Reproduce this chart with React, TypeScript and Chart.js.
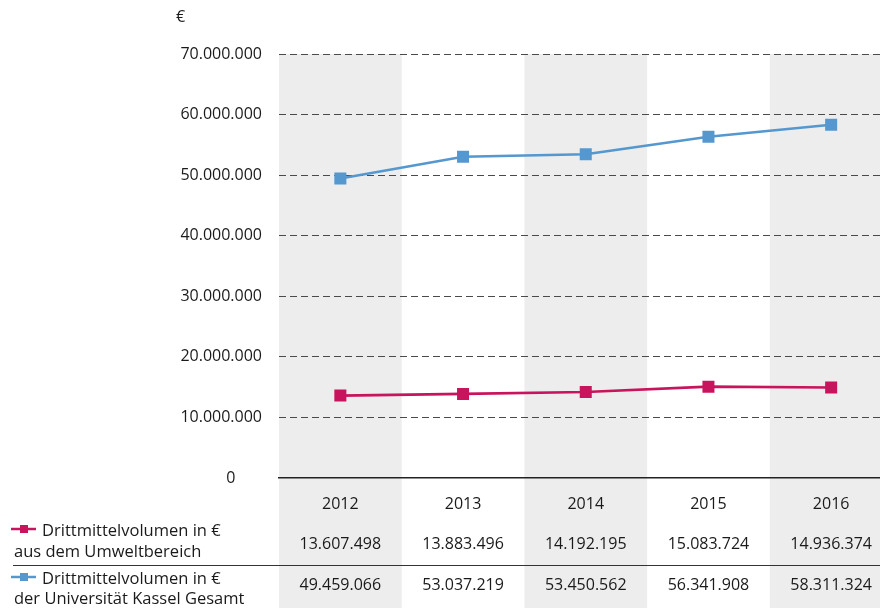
import React, { useEffect, useRef } from "react";
import { Chart, registerables } from "chart.js";

Chart.register(...registerables);

const years = ["2012", "2013", "2014", "2015", "2016"];
const umwelt = [13607498, 13883496, 14192195, 15083724, 14936374];
const gesamt = [49459066, 53037219, 53450562, 56341908, 58311324];
const yTicks = [0, 10000000, 20000000, 30000000, 40000000, 50000000, 60000000, 70000000];
const legendUmwelt = ["Drittmittelvolumen in €", "aus dem Umweltbereich"];
const legendGesamt = ["Drittmittelvolumen in €", "der Universität Kassel Gesamt"];
const unitLabel = "€";

const PINK = "#c8145c";
const BLUE = "#5597cf";
const SHADE = "#ededed";
const TEXT = "#1a1a1a";
const FONT = "'Open Sans', 'Noto Sans', sans-serif";
const FS = 16;

function fmt(n: number): string {
  return String(Math.round(n)).replace(/\B(?=(\d{3})+(?!\d))/g, ".");
}

const tablePlugin = {
  id: "tablePlugin",
  beforeDraw(chart: any) {
    const { ctx, chartArea, scales } = chart;
    const x = scales.x;
    const w = x.getPixelForValue(1) - x.getPixelForValue(0);
    ctx.save();
    ctx.fillStyle = SHADE;
    for (let i = 0; i < years.length; i += 2) {
      const cx = x.getPixelForValue(i);
      ctx.fillRect(cx - w / 2, chartArea.top, w, chart.height - chartArea.top);
    }
    ctx.restore();
  },
  afterDraw(chart: any) {
    const { ctx, scales } = chart;
    const x = scales.x;
    ctx.save();
    ctx.fillStyle = TEXT;
    ctx.font = `${FS}px ${FONT}`;
    ctx.textBaseline = "middle";
    ctx.textAlign = "center";
    years.forEach((yr, i) => {
      const cx = x.getPixelForValue(i);
      ctx.fillText(yr, cx, 504);
      ctx.fillText(fmt(umwelt[i]), cx, 544);
      ctx.fillText(fmt(gesamt[i]), cx, 585);
    });
    // unit label
    ctx.textAlign = "left";
    ctx.fillText(unitLabel, 176, 17);
    // legend rows
    const drawLegend = (color: string, lines: string[], y1: number, y2: number) => {
      ctx.strokeStyle = color;
      ctx.lineWidth = 2.5;
      ctx.beginPath();
      ctx.moveTo(11, y1 - 2);
      ctx.lineTo(36, y1 - 2);
      ctx.stroke();
      ctx.fillStyle = color;
      ctx.fillRect(20, y1 - 6, 8, 8);
      ctx.fillStyle = TEXT;
      ctx.textAlign = "left";
      ctx.font = `16.5px ${FONT}`;
      ctx.fillText(lines[0], 42, y1);
      ctx.fillText(lines[1], 14, y2);
    };
    drawLegend(PINK, legendUmwelt, 531, 552);
    drawLegend(BLUE, legendGesamt, 579, 599);
    // separator
    ctx.strokeStyle = "#333";
    ctx.lineWidth = 1.2;
    ctx.beginPath();
    ctx.moveTo(13, 565.5);
    ctx.lineTo(chart.width, 565.5);
    ctx.stroke();
    ctx.restore();
  },
};

export default function App() {
  const ref = useRef<HTMLCanvasElement | null>(null);
  useEffect(() => {
    if (!ref.current) return;
    const chart = new Chart(ref.current, {
      type: "line",
      data: {
        labels: years,
        datasets: [
          {
            label: legendGesamt.join(" "),
            data: gesamt,
            borderColor: BLUE,
            backgroundColor: BLUE,
            borderWidth: 2.6,
            pointStyle: "rect",
            pointRadius: 8.5,
            pointHoverRadius: 8.5,
            pointBorderWidth: 0,
            tension: 0,
          },
          {
            label: legendUmwelt.join(" "),
            data: umwelt,
            borderColor: PINK,
            backgroundColor: PINK,
            borderWidth: 2.6,
            pointStyle: "rect",
            pointRadius: 8.5,
            pointHoverRadius: 8.5,
            pointBorderWidth: 0,
            tension: 0,
          },
        ],
      },
      options: {
        animation: false,
        responsive: false,
        maintainAspectRatio: false,
        layout: { padding: { top: 54, bottom: 130, left: 0, right: 0 } },
        plugins: { legend: { display: false }, tooltip: { enabled: false } },
        scales: {
          x: {
            offset: true,
            ticks: { display: false },
            grid: { display: false, drawTicks: false },
            border: { display: true, color: "#222", width: 1.5 },
          },
          y: {
            min: 0,
            max: 70000000,
            afterFit: (s: any) => {
              s.width = 279;
            },
            afterBuildTicks: (s: any) => {
              s.ticks = yTicks.map((v) => ({ value: v }));
            },
            ticks: {
              padding: 17,
              color: TEXT,
              font: { family: FONT, size: FS },
              callback: (v: any) => (Number(v) === 0 ? "0      \u200A" : fmt(Number(v))),
            },
            grid: {
              drawTicks: false,
              color: (c: any) => (c.tick && c.tick.value === 0 ? "rgba(0,0,0,0)" : "#4a4a4a"),
              lineWidth: 1,
            },
            border: { display: false, dash: [7, 4] },
          },
        },
      },
      plugins: [tablePlugin],
    });
    return () => chart.destroy();
  }, []);
  return (
    <div style={{ position: "fixed", left: 0, top: 0, width: 880, height: 608, overflow: "hidden", background: "#fff" }}>
      <canvas ref={ref} width={901} height={608} style={{ width: 901, height: 608, display: "block" }} />
    </div>
  );
}
